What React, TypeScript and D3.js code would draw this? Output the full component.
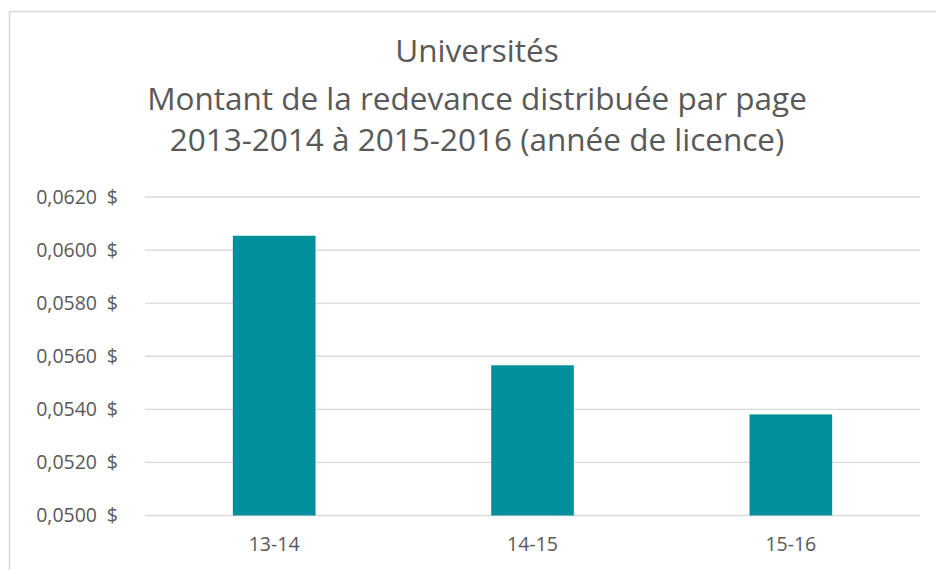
import React from "react";
import * as d3 from "d3";

const categories = ["13-14", "14-15", "15-16"];
const values = [0.06054, 0.05566, 0.05381];
const yTicks = [0.05, 0.052, 0.054, 0.056, 0.058, 0.06, 0.062];
const titleLines = [
  "Universités",
  "Montant de la redevance distribuée par page",
  "2013-2014 à 2015-2016 (année de licence)",
];

const W = 936;
const H = 570;
const FONT = "'Open Sans', 'Segoe UI', sans-serif";
const TEXT = "#595959";
const GRID = "#d9d9d9";
const BAR = "#00909c";

export default function App() {
  const plotLeft = 145;
  const plotRight = 920;
  const y = d3.scaleLinear().domain([0.05, 0.062]).range([515.5, 197]);
  const x = d3.scaleBand<string>().domain(categories).range([plotLeft, plotRight]).padding(0);
  const barW = x.bandwidth() * 0.32;
  const fmt = (v: number) => v.toFixed(4).replace(".", ",");
  const titleY = [62, 110, 151];

  return (
    <svg
      width={W}
      height={H}
      style={{ position: "absolute", left: 0, top: 0, background: "#fff" }}
      fontFamily={FONT}
    >
      <rect x={0} y={0} width={W} height={H} fill="#fff" />
      <rect x={9.5} y={11.5} width={W + 50} height={H + 50} fill="none" stroke={GRID} strokeWidth={1.5} />
      {titleLines.map((t, i) => (
        <text key={i} x={477} y={titleY[i]} textAnchor="middle" fontSize={31.5} fill={TEXT}>
          {t}
        </text>
      ))}
      {yTicks.map((t) => (
        <g key={t}>
          <line x1={plotLeft} x2={plotRight} y1={y(t)} y2={y(t)} stroke={GRID} strokeWidth={1.3} />
          <text x={97} y={y(t)} dy="0.35em" textAnchor="end" fontSize={19.5} fill={TEXT}>
            {fmt(t)}
          </text>
          <text x={118} y={y(t)} dy="0.35em" textAnchor="end" fontSize={19.5} fill={TEXT}>
            $
          </text>
        </g>
      ))}
      {categories.map((c, i) => {
        const cx = (x(c) as number) + x.bandwidth() / 2;
        return (
          <g key={c}>
            <rect
              x={cx - barW / 2}
              y={y(values[i])}
              width={barW}
              height={y(0.05) - y(values[i])}
              fill={BAR}
            />
            <text x={cx} y={544.5} dy="0.35em" textAnchor="middle" fontSize={19.5} fill={TEXT}>
              {c}
            </text>
          </g>
        );
      })}
    </svg>
  );
}
